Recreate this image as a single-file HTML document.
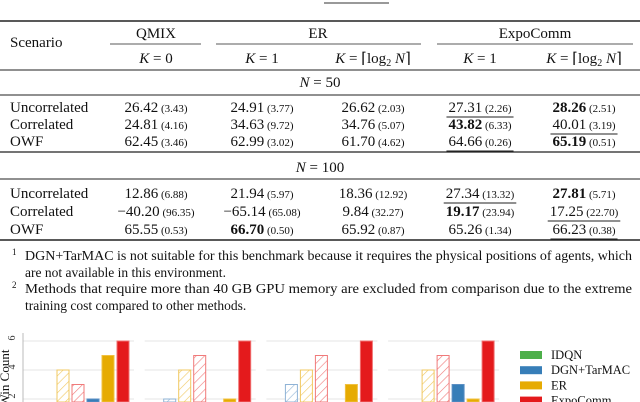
<!DOCTYPE html>
<html><head><meta charset="utf-8"><style>
html,body{margin:0;padding:0;background:#fff;width:640px;height:402px;overflow:hidden;}
svg{display:block;font-family:"Liberation Serif",serif;}
</style></head><body>
<svg id="s" width="640" height="402" viewBox="0 0 640 402">
<defs>
<pattern id="hb" width="6" height="6" patternUnits="userSpaceOnUse" patternTransform="rotate(45)"><rect width="6" height="6" fill="#fff"/><line x1="0" y1="0" x2="0" y2="6" stroke="#8fb3d6" stroke-width="1.2"/></pattern>
<pattern id="hy" width="6" height="6" patternUnits="userSpaceOnUse" patternTransform="rotate(45)"><rect width="6" height="6" fill="#fff"/><line x1="0" y1="0" x2="0" y2="6" stroke="#f0c860" stroke-width="1.2"/></pattern>
<pattern id="hr" width="6" height="6" patternUnits="userSpaceOnUse" patternTransform="rotate(45)"><rect width="6" height="6" fill="#fff"/><line x1="0" y1="0" x2="0" y2="6" stroke="#f07a7a" stroke-width="1.2"/></pattern>
<pattern id="hg" width="6" height="6" patternUnits="userSpaceOnUse" patternTransform="rotate(45)"><rect width="6" height="6" fill="#fff"/><line x1="0" y1="0" x2="0" y2="6" stroke="#8fd08f" stroke-width="1.2"/></pattern>
</defs>
<line x1="324" y1="3" x2="389" y2="3" stroke="#333" stroke-width="1"/>
<g font-size="15" fill="#111">
<line x1="0" y1="21" x2="640" y2="21" stroke="#222" stroke-width="1.6"/>
<text x="10" y="47">Scenario</text>
<text x="156" y="38" text-anchor="middle">QMIX</text>
<text x="318" y="38" text-anchor="middle">ER</text>
<text x="535" y="38" text-anchor="middle">ExpoComm</text>
<line x1="110" y1="44" x2="201" y2="44" stroke="#222" stroke-width="0.8"/>
<line x1="216" y1="44" x2="421" y2="44" stroke="#222" stroke-width="0.8"/>
<line x1="437" y1="44" x2="633" y2="44" stroke="#222" stroke-width="0.8"/>
<g font-style="italic">
<text x="156" y="63" text-anchor="middle">K <tspan font-style="normal">= 0</tspan></text>
<text x="262" y="63" text-anchor="middle">K <tspan font-style="normal">= 1</tspan></text>
<text x="373" y="63" text-anchor="middle">K <tspan font-style="normal">= ⌈log</tspan><tspan font-style="normal" font-size="10" dy="3">2</tspan><tspan dy="-3"> N</tspan><tspan font-style="normal">⌉</tspan></text>
<text x="480" y="63" text-anchor="middle">K <tspan font-style="normal">= 1</tspan></text>
<text x="584" y="63" text-anchor="middle">K <tspan font-style="normal">= ⌈log</tspan><tspan font-style="normal" font-size="10" dy="3">2</tspan><tspan dy="-3"> N</tspan><tspan font-style="normal">⌉</tspan></text>
</g>
<line x1="0" y1="70" x2="640" y2="70" stroke="#222" stroke-width="1"/>
<text x="320" y="87" text-anchor="middle"><tspan font-style="italic">N</tspan> = 50</text>
<line x1="0" y1="95" x2="640" y2="95" stroke="#222" stroke-width="1"/>
<line x1="0" y1="152" x2="640" y2="152" stroke="#222" stroke-width="1.2"/>
<text x="320" y="172" text-anchor="middle"><tspan font-style="italic">N</tspan> = 100</text>
<line x1="0" y1="179" x2="640" y2="179" stroke="#222" stroke-width="1"/>
<line x1="0" y1="240" x2="640" y2="240" stroke="#222" stroke-width="1.6"/>
<g id="rows"></g>
</g>
<g font-size="13.5" fill="#111">
<text x="12" y="255" font-size="9">1</text>
<text x="25" y="260" textLength="607" lengthAdjust="spacingAndGlyphs">DGN+TarMAC is not suitable for this benchmark because it requires the physical positions of agents, which</text>
<text x="25" y="277">are not available in this environment.</text>
<text x="12" y="288" font-size="9">2</text>
<text x="25" y="293" textLength="607" lengthAdjust="spacingAndGlyphs">Methods that require more than 40 GB GPU memory are excluded from comparison due to the extreme</text>
<text x="25" y="310">training cost compared to other methods.</text>
</g>
<g id="chart"></g>
</svg>
<script>
// ---------- table data ----------
const scenarios=["Uncorrelated","Correlated","OWF","Uncorrelated","Correlated","OWF"];
const means=[["26.42","24.91","26.62","27.31","28.26"],["24.81","34.63","34.76","43.82","40.01"],["62.45","62.99","61.70","64.66","65.19"],
["12.86","21.94","18.36","27.34","27.81"],["−40.20","−65.14","9.84","19.17","17.25"],["65.55","66.70","65.92","65.26","66.23"]];
const stds=[["3.43","3.77","2.03","2.26","2.51"],["4.16","9.72","5.07","6.33","3.19"],["3.46","3.02","4.62","0.26","0.51"],
["6.88","5.97","12.92","13.32","5.71"],["96.35","65.08","32.27","23.94","22.70"],["0.53","0.50","0.87","1.34","0.38"]];
const boldCells=[[0,4],[1,3],[2,4],[3,4],[4,3],[5,1]];
const underCells=[[0,3],[1,4],[2,3],[3,3],[4,4],[5,4]];
const NS="http://www.w3.org/2000/svg";
const colX=[156,262,373,480,584];
const rowY=[112,129,146,198,216,234];
const rows=document.getElementById('rows');
function mk(t,a,p){const e=document.createElementNS(NS,t);for(const k in a)e.setAttribute(k,a[k]);p.appendChild(e);return e;}
scenarios.forEach((s,i)=>{
  const t=mk('text',{x:10,y:rowY[i]},rows);t.textContent=s;
  
  
  means[i].forEach((m,j)=>{
    const bold=boldCells.some(c=>c[0]==i&&c[1]==j);
    const cell=mk('text',{x:colX[j],y:rowY[i],'text-anchor':'middle'},rows);
    
    
    const a=mk('tspan',{'font-weight':bold?'bold':'normal'},cell);a.textContent=m;
    const b=mk('tspan',{'font-size':'11'},cell);b.textContent=' ('+stds[i][j]+')';
    if(underCells.some(c=>c[0]==i&&c[1]==j)){
      const w=cell.getComputedTextLength?cell.getComputedTextLength():70;
      mk('line',{x1:colX[j]-w/2-2,x2:colX[j]+w/2+2,y1:rowY[i]+5,y2:rowY[i]+5,stroke:'#222','stroke-width':1},rows);
    }
  });
});

// ---------- chart data ----------
const methods=["IDQN","DGN+TarMAC (K=1)","ER (K=1)","ExpoComm (K=1)","DGN+TarMAC","ER","ExpoComm"];
const panel1=[1,1,4,3,2,5,6];
const panel2=[1,2,4,5,1,2,6];
const panel3=[1,3,4,5,1,3,6];
const panel4=[1,1,4,5,3,2,6];
const panels=[panel1,panel2,panel3,panel4];
const yTicks=[2,4,6];
const legendLabels=["IDQN","DGN+TarMAC","ER","ExpoComm"];
const fills=["#4daf4a","url(#hb)","url(#hy)","url(#hr)","#377eb8","#e6ab02","#e41a1c"];
const strokes=["#4daf4a","#8fb3d6","#f0c860","#f07a7a","#5b8fc4","#f0c040","#f07070"];
const legendColors=["#4daf4a","#377eb8","#e6ab02","#e41a1c"];
const chart=document.getElementById('chart');
const yS=v=>428-14.5*v;
const panelX=p=>23+p*121.7;
const barX=(p,k)=>panelX(p)+4+k*15;
panels.forEach((vals,p)=>{
  const x0=panelX(p);
  yTicks.forEach(t=>{
    const g=mk('line',{x1:x0,x2:x0+111,y1:yS(t),y2:yS(t),stroke:'#e4e4e4','stroke-width':1},chart);
    
    
  });
  vals.forEach((v,k)=>{
    const r=mk('rect',{x:barX(p,k),y:yS(v),width:12,height:Math.max(0,402-yS(v)),fill:fills[k],stroke:strokes[k],'stroke-width':1},chart);
    
    
  });
});
mk('line',{x1:23,x2:23,y1:333,y2:402,stroke:'#bbb','stroke-width':1},chart);
yTicks.forEach(t=>{
  const tl=mk('text',{x:18,y:yS(t),'font-size':'10','text-anchor':'middle',fill:'#333',transform:'rotate(-90 15 '+yS(t)+')'},chart);
  tl.textContent=t;
  
  
});
const yl=mk('text',{x:9,y:378,'font-size':'13','text-anchor':'middle',fill:'#111',transform:'rotate(-90 9 378)'},chart);
yl.textContent='Win Count';


legendLabels.forEach((l,i)=>{
  const y=351+i*15.2;
  const sw=mk('rect',{x:520,y:y,width:22,height:8,fill:legendColors[i]},chart);
  
  
  const tx=mk('text',{x:551,y:y+8,'font-size':'12.5',fill:'#111'},chart);
  tx.textContent=l;
  
  
});
</script>
</body></html>
